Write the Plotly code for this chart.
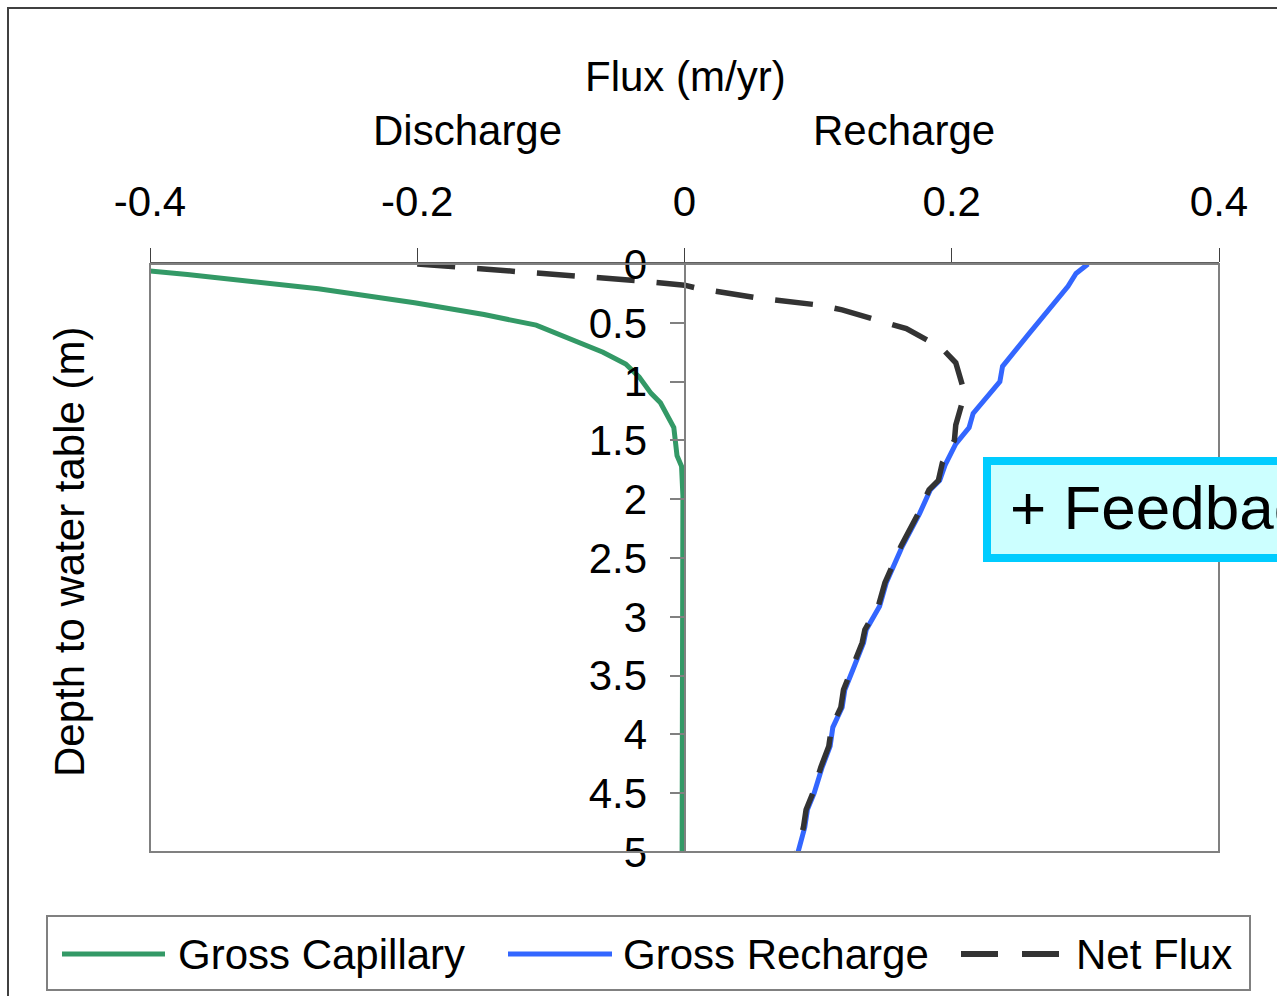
import plotly.graph_objects as go

# depth to water table (m) and flux (m/yr)
cap_depth = [0.06, 0.09, 0.21, 0.33, 0.43, 0.52, 0.75, 0.85, 0.96, 1.10, 1.18, 1.39, 1.63, 1.72, 1.97,
             2.5, 3.0, 3.5, 4.0, 4.5, 5.0]
cap_flux = [-0.400, -0.372, -0.274, -0.202, -0.150, -0.111, -0.061, -0.044, -0.034, -0.025, -0.018,
            -0.008, -0.0056, -0.0022, -0.0012, -0.0013, -0.0014, -0.0015, -0.0016, -0.0017, -0.0018]

rch_depth = [0.0, 0.08, 0.19, 0.31, 0.59, 0.87, 1.00, 1.27, 1.39, 1.53, 1.71, 1.84, 1.92, 2.12, 2.40,
             2.71, 2.91, 3.11, 3.22, 3.45, 3.62, 3.77, 3.94, 4.10, 4.28, 4.50, 4.64, 4.79, 5.0]
rch_flux = [0.302, 0.293, 0.287, 0.278, 0.258, 0.238, 0.236, 0.216, 0.213, 0.203, 0.195, 0.191, 0.184,
            0.176, 0.163, 0.151, 0.146, 0.136, 0.134, 0.126, 0.120, 0.118, 0.111, 0.109, 0.103, 0.097,
            0.092, 0.090, 0.085]

net_depth = [0.0, 0.06, 0.14, 0.18, 0.21, 0.29, 0.35, 0.39, 0.48, 0.55, 0.71, 0.84, 1.11, 1.17, 1.37,
             1.50, 1.69, 1.84, 1.92, 2.12, 2.40, 2.71, 2.91, 3.11, 3.22, 3.45, 3.62, 3.77, 3.94, 4.10,
             4.28, 4.50, 4.64, 4.79, 5.0]
net_flux = [-0.200, -0.125, -0.037, 0.000, 0.011, 0.056, 0.101, 0.118, 0.147, 0.166, 0.192, 0.203,
            0.210, 0.208, 0.203, 0.202, 0.193, 0.190, 0.183, 0.175, 0.162, 0.150, 0.145, 0.135, 0.133,
            0.125, 0.119, 0.117, 0.110, 0.108, 0.102, 0.096, 0.091, 0.089, 0.084]

x_ticks = [-0.4, -0.2, 0, 0.2, 0.4]
x_labels = ["-0.4", "-0.2", "0", "0.2", "0.4"]
y_ticks = [0, 0.5, 1, 1.5, 2, 2.5, 3, 3.5, 4, 4.5, 5]
y_labels = ["0", "0.5", "1", "1.5", "2", "2.5", "3", "3.5", "4", "4.5", "5"]

FONT = "Liberation Sans, Arial, sans-serif"
W, H = 1277, 996
L, R, T, B = 150, 1219, 264, 852  # plot area in pixels


def px(x):
    return (x - L) / (R - L)


def py(y):
    return (B - y) / (B - T)


fig = go.Figure()

fig.add_trace(go.Scatter(x=cap_flux, y=cap_depth, mode="lines", name="Gross Capillary",
                         line=dict(color="#339966", width=5)))
fig.add_trace(go.Scatter(x=rch_flux, y=rch_depth, mode="lines", name="Gross Recharge",
                         line=dict(color="#3366FF", width=5)))
fig.add_trace(go.Scatter(x=net_flux, y=net_depth, mode="lines", name="Net Flux",
                         line=dict(color="#333333", width=5.5, dash="38px,22px")))

shapes = [
    # outer frame
    dict(type="rect", xref="paper", yref="paper", x0=px(8), y0=py(8), x1=px(1400), y1=py(1100),
         line=dict(color="#404040", width=2), layer="below"),
    # plot area border
    dict(type="rect", xref="paper", yref="paper", x0=0, y0=0, x1=1, y1=1,
         line=dict(color="#808080", width=2), layer="above"),
    # legend box
    dict(type="rect", xref="paper", yref="paper", x0=px(47), y0=py(916), x1=px(1250), y1=py(990),
         line=dict(color="#808080", width=2)),
    # legend samples
    dict(type="line", xref="paper", yref="paper", x0=px(62), x1=px(165), y0=py(954), y1=py(954),
         line=dict(color="#339966", width=5)),
    dict(type="line", xref="paper", yref="paper", x0=px(508), x1=px(612), y0=py(954), y1=py(954),
         line=dict(color="#3366FF", width=5)),
    dict(type="line", xref="paper", yref="paper", x0=px(961), x1=px(1059), y0=py(954), y1=py(954),
         line=dict(color="#333333", width=6, dash="37px,24px")),
    # feedback box
    dict(type="rect", xref="paper", yref="paper", x0=px(987), y0=py(461), x1=px(1400), y1=py(558),
         line=dict(color="#00CCFF", width=8), fillcolor="#CCFFFF", layer="above"),
]

ann_font = dict(family=FONT, size=42, color="black")
annotations = [
    dict(text="Flux (m/yr)", x=px(685), y=py(76), xanchor="center", yanchor="middle"),
    dict(text="Discharge", x=px(467), y=py(130), xanchor="center", yanchor="middle"),
    dict(text="Recharge", x=px(904), y=py(130), xanchor="center", yanchor="middle"),
    dict(text="Depth to water table (m)", x=px(69), y=py(552), xanchor="center", yanchor="middle",
         textangle=-90),
    dict(text="Gross Capillary", x=px(176), y=py(954), xanchor="left", yanchor="middle"),
    dict(text="Gross Recharge", x=px(621), y=py(954), xanchor="left", yanchor="middle"),
    dict(text="Net Flux", x=px(1074), y=py(954), xanchor="left", yanchor="middle"),
]
for a in annotations:
    a.update(xref="paper", yref="paper", showarrow=False, font=ann_font)
# the reference cuts this label off at the right edge of the picture
annotations.append(dict(text="+ Feedback", x=px(1008), y=py(507), xref="paper", yref="paper",
                        xanchor="left", yanchor="middle", showarrow=False,
                        font=dict(family=FONT, size=62, color="black")))

fig.update_layout(
    width=W, height=H,
    margin=dict(l=L, r=W - R, t=T, b=H - B, pad=0),
    paper_bgcolor="white", plot_bgcolor="white",
    showlegend=False,
    font=dict(family=FONT, size=42, color="black"),
    xaxis=dict(range=[-0.4, 0.4], side="top", tickvals=x_ticks, ticktext=x_labels,
               showgrid=False, zeroline=False, showline=True, linecolor="#606060", linewidth=2,
               ticks="outside", ticklen=14, tickwidth=1, tickcolor="#404040",
               tickfont=dict(family=FONT, size=42), ticklabelstandoff=15),
    yaxis=dict(range=[5, 0], tickvals=y_ticks, ticktext=y_labels, anchor="free", position=0.5,
               showgrid=False, zeroline=False, showline=True, linecolor="#808080", linewidth=2,
               ticks="outside", ticklen=14, tickwidth=2, tickcolor="#808080",
               tickfont=dict(family=FONT, size=42), ticklabelstandoff=14),
    shapes=shapes,
    annotations=annotations,
)

fig.write_html("out.html", config={"displayModeBar": False},
               post_script="document.body.style.margin = '0';")
